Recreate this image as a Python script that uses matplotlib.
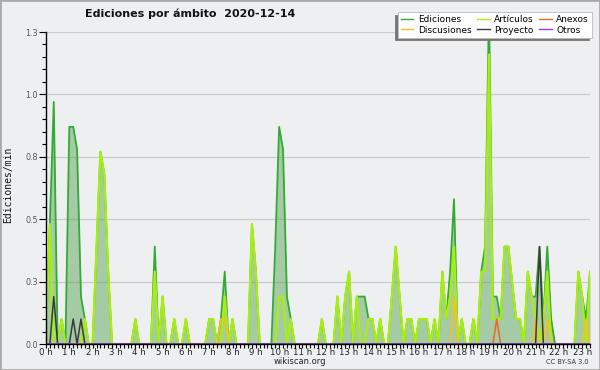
import matplotlib.pyplot as plt
import numpy as np
from matplotlib.patches import Rectangle

# 10-minute bins from 0:00 to 23:20 (edits per minute), one row per hour
ediciones = [
    0, 0.48, 0.97, 0, 0.1, 0,
    0.87, 0.87, 0.78, 0.19, 0.1, 0,
    0, 0.39, 0.77, 0.68, 0.29, 0,
    0, 0, 0, 0, 0, 0.1,
    0, 0, 0, 0, 0.39, 0,
    0.19, 0, 0, 0.1, 0, 0,
    0.1, 0, 0, 0, 0, 0,
    0.1, 0.1, 0, 0.1, 0.29, 0,
    0.1, 0, 0, 0, 0, 0.48,
    0.29, 0, 0, 0, 0, 0.39,
    0.87, 0.78, 0.19, 0.1, 0, 0,
    0, 0, 0, 0, 0, 0.1,
    0, 0, 0, 0.19, 0, 0.19,
    0.29, 0, 0.19, 0.19, 0.19, 0.1,
    0.1, 0, 0.1, 0, 0, 0.19,
    0.39, 0.19, 0, 0.1, 0.1, 0,
    0.1, 0.1, 0.1, 0, 0.1, 0,
    0.29, 0.1, 0.29, 0.58, 0, 0.1,
    0, 0, 0.1, 0, 0.29, 0.39,
    1.35, 0.19, 0.19, 0.1, 0.39, 0.39,
    0.24, 0.1, 0.1, 0, 0.29, 0.19,
    0.19, 0.39, 0.1, 0.39, 0.1, 0,
    0, 0, 0, 0, 0, 0.29,
    0.19, 0.1, 0.29,
]
articulos = [
    0, 0.48, 0, 0, 0.1, 0,
    0, 0, 0, 0, 0.1, 0,
    0, 0.39, 0.77, 0.68, 0.29, 0,
    0, 0, 0, 0, 0, 0.1,
    0, 0, 0, 0, 0.29, 0,
    0.19, 0, 0, 0.1, 0, 0,
    0.1, 0, 0, 0, 0, 0,
    0.1, 0.1, 0, 0, 0.19, 0,
    0.1, 0, 0, 0, 0, 0.48,
    0.29, 0, 0, 0, 0, 0,
    0.19, 0.19, 0, 0.1, 0, 0,
    0, 0, 0, 0, 0, 0.1,
    0, 0, 0, 0.19, 0, 0.19,
    0.29, 0, 0.19, 0, 0, 0.1,
    0.1, 0, 0.1, 0, 0, 0.19,
    0.39, 0.19, 0, 0.1, 0.1, 0,
    0.1, 0.1, 0.1, 0, 0.1, 0,
    0.29, 0.1, 0.19, 0.39, 0, 0.1,
    0, 0, 0.1, 0, 0.29, 0.29,
    1.16, 0.1, 0.1, 0.1, 0.39, 0.39,
    0.24, 0.1, 0.1, 0, 0.29, 0.19,
    0.1, 0, 0.1, 0.29, 0, 0,
    0, 0, 0, 0, 0, 0.29,
    0.19, 0, 0.29,
]
n = len(ediciones)
discusiones = [0.0] * n
anexos = [0.0] * n
proyecto = [0.0] * n
otros = [0.0] * n
for i, v in [(45, 0.1), (46, 0.1), (105, 0.19), (126, 0.1), (129, 0.1), (139, 0.1)]:
    discusiones[i] = v
for i, v in [(116, 0.1)]:
    anexos[i] = v
for i, v in [(2, 0.19), (7, 0.1), (9, 0.1), (127, 0.39)]:
    proyecto[i] = v

hours = np.arange(n) / 6.0
hour_labels = [f"{h} h" for h in range(24)]
ytick_vals = [0, 0.25, 0.5, 0.75, 1.0, 1.25]
ytick_labels = ["0.0", "0.3", "0.5", "0.8", "1.0", "1.3"]

bg = "#eeeff1"
fig = plt.figure(figsize=(6, 3.7), dpi=100, facecolor=bg)
ax = fig.add_axes([46 / 600, 26 / 370, 544 / 600, 312 / 370], facecolor=bg)

ax.fill_between(hours, ediciones, 0, color="#3f9a3f", alpha=0.42, linewidth=0, zorder=1)
ax.plot(hours, ediciones, color="#33aa33", lw=1.3, label="Ediciones", zorder=2)
ax.plot(hours, articulos, color="#a8ee10", lw=1.6, label="Artículos", zorder=2.1)
ax.plot(hours, discusiones, color="#f2c21e", lw=1.2, label="Discusiones", zorder=2.2)
ax.plot(hours, anexos, color="#ee6a2a", lw=1.2, label="Anexos", zorder=2.2)
ax.plot(hours, proyecto, color="#3a3a3a", lw=1.1, label="Proyecto", zorder=2.3)
ax.plot(hours, otros, color="#8a44e0", lw=1.1, label="Otros", zorder=2.3)

ax.set_xlim(0, hours[-1])
ax.set_ylim(0, 1.25)
ax.set_yticks(ytick_vals)
ax.set_yticklabels(ytick_labels)
ax.set_yticks(np.arange(0, 1.26, 0.05), minor=True)
ax.set_xticks(range(24))
ax.set_xticklabels(hour_labels)
ax.set_xticks(hours, minor=True)
ax.tick_params(axis="y", which="major", length=5, width=0.8, labelsize=5.8, labelcolor="#555555", pad=1)
ax.tick_params(axis="y", which="minor", length=3, width=0.8)
ax.tick_params(axis="x", which="both", length=3, width=0.8, labelsize=6.2, labelcolor="#222222", pad=0)
ax.grid(axis="y", which="major", color="#cccccc", lw=0.9)
ax.set_axisbelow(True)
for s in ["top", "right"]:
    ax.spines[s].set_visible(False)
for s in ["left", "bottom"]:
    ax.spines[s].set_linewidth(1)
    ax.spines[s].set_zorder(5)

handles, labels = ax.get_legend_handles_labels()
order = [0, 2, 1, 4, 3, 5]
leg = ax.legend([handles[i] for i in order], [labels[i] for i in order],
                ncol=3, loc="upper right", bbox_to_anchor=(592 / 600, 1 - 12 / 370),
                bbox_transform=fig.transFigure, fontsize=6.5, frameon=True,
                fancybox=False, handlelength=1.4, handletextpad=0.5,
                columnspacing=0.6, labelspacing=0.15, borderpad=0.35,
                borderaxespad=0, shadow={"ox": -2, "oy": -2, "color": "#777777", "alpha": 1})
leg.get_frame().set_edgecolor("#bbbbbb")
leg.get_frame().set_linewidth(0.6)
for line in leg.get_lines():
    line.set_linewidth(1.0)

fig.text(190 / 600, 1 - 14 / 370, "Ediciones por ámbito  2020-12-14", ha="center", va="center",
         fontsize=8, fontweight="bold", color="#111111")
fig.text(8 / 600, 1 - 185 / 370, "Ediciones/min", rotation=90, ha="center", va="center",
         fontsize=7, family="DejaVu Sans Mono", color="#111111")
fig.text(300 / 600, 1 - 362 / 370, "wikiscan.org", ha="center", va="center", fontsize=6, color="#222222")
fig.text(589 / 600, 1 - 362 / 370, "CC BY-SA 3.0", ha="right", va="center", fontsize=4.8, color="#333333")
fig.patches.append(Rectangle((0, 0), 1, 1, transform=fig.transFigure, fill=False,
                             edgecolor="#aaaaaa", lw=2, figure=fig))

fig.savefig("out.png", dpi=100, facecolor=bg)
